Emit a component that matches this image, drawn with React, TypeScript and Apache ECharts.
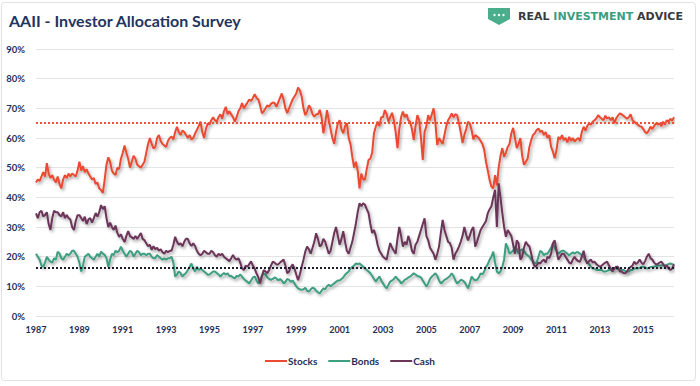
import React, { useEffect, useRef } from "react";
import * as echarts from "echarts";

// Monthly survey values, Jan 1987 .. Jun 2016 (one row per year)
const stocks: number[] = [
  45, 46, 45.5, 47, 48.5, 47, 51.5, 48, 46.5, 47.5, 46, 45,
  47, 44.5, 43, 46, 47.5, 46.5, 48, 47, 48, 47.5, 47, 49,
  52, 49, 50.5, 48.5, 49.5, 48, 47, 46, 46.5, 44.5, 45, 43,
  42.5, 41.5, 46, 51, 53.5, 52, 49, 48, 47.5, 50, 49.5, 53,
  55, 57.5, 55, 53, 50, 52, 54, 53, 51, 50.5, 50, 51,
  52, 55, 58, 60, 58, 56.5, 57, 60, 61, 59, 58, 57.5,
  57, 59, 60, 60.5, 59.5, 62, 63.8, 62, 61, 62.5, 62, 61,
  60, 61, 59.5, 60, 61.5, 62.7, 64, 65.5, 62, 60, 63, 65,
  64.5, 66, 67, 66, 65.5, 67, 68, 66.5, 69, 70.5, 68, 69,
  68, 67, 65.5, 67, 69, 70, 71.8, 70, 71, 72, 73, 72.5,
  73.5, 74.8, 73.5, 73, 71, 68.3, 69, 70, 71, 70.5, 71.5, 72,
  71.8, 70.5, 72, 73.5, 75, 73, 70, 68.4, 70, 71.5, 73, 74,
  75, 77, 76, 74, 70, 67.7, 69, 71, 70, 68, 67.2, 68,
  68, 69.5, 67, 61.6, 65, 69.4, 66, 63, 60, 58, 62, 65,
  66, 63, 61.6, 64, 65, 60, 58, 53.7, 50, 52, 49, 43,
  48, 46, 46, 49.5, 52.6, 53, 55, 61.6, 63.8, 65.5, 64, 67,
  67, 69.4, 68, 65.5, 67, 68.5, 66, 62, 56.6, 63, 67, 68.9,
  67, 68, 66, 65.5, 63, 59.3, 64, 67.7, 66, 60, 52.6, 62,
  64, 67.7, 66, 68, 70, 65, 57.6, 60, 59, 58, 61, 64,
  66, 67, 68.3, 67, 68, 67.7, 65, 62, 58.3, 61, 63, 65.5,
  65, 62.7, 59.5, 61, 60.5, 60, 59, 58, 56, 52, 49, 45.8,
  43.6, 43, 47.5, 44, 50, 54, 56.6, 53.7, 55, 57, 58, 61.6,
  63.4, 60, 56.6, 58, 60, 54, 51, 52, 53, 57, 59.3, 61,
  61.6, 62.7, 63.2, 62, 62.5, 61, 62, 60, 61, 57, 55.4, 53.2,
  56, 60.4, 59.5, 61, 59.3, 60, 58.5, 60.4, 59, 60, 58.8, 59.5,
  60, 59, 62, 63.8, 62.5, 64, 65, 64.5, 65.5, 66, 66.6, 67.7,
  67, 66.5, 66, 67.5, 66.6, 67, 66, 67, 65, 66.6, 67.5, 68.3,
  68, 67.5, 67, 66.5, 67, 68, 66, 65.5, 65, 64.5, 64, 63.8,
  63, 62, 61.6, 62.5, 63.8, 63, 64, 65, 64.5, 65, 64, 65.5,
  64.5, 66, 65.5, 66.5, 65.8, 67,
];

const bonds: number[] = [
  21, 20, 19, 17, 16.6, 18, 20, 19, 18.3, 18, 19.5, 19,
  21.7, 21, 19.5, 19, 20, 21, 20.5, 21, 22, 22, 21, 20,
  18, 15, 17, 20, 20.5, 21, 20, 19.5, 19, 20, 21, 20,
  21.7, 21, 20.6, 19.5, 16.6, 19, 21, 20.5, 22, 21.5, 22, 23.4,
  22, 21, 20, 21, 22, 21.5, 20, 21, 22, 21.5, 20.5, 21,
  21, 20.5, 21, 21, 20, 19.5, 19.5, 20.6, 20, 19.5, 19, 19.5,
  19, 19.5, 19.5, 20, 18, 13.3, 14, 15, 14.5, 13.3, 14, 14.5,
  15.5, 16.5, 17.7, 16, 15, 16.6, 15.5, 16, 15.5, 15, 14.5, 13.9,
  14, 14.5, 15, 15, 14.5, 14, 13.3, 14, 14.5, 14, 14.4, 13.5,
  13.5, 13, 12.7, 13.5, 13.3, 14, 13.3, 12.5, 12, 11.5, 11, 12,
  13, 13.3, 12, 11, 12, 13.5, 14.4, 14, 13, 12.5, 12.2, 12.5,
  13, 12.7, 12, 12.5, 12, 11, 11.5, 12.5, 12.2, 11.5, 12, 11,
  10, 9.3, 9, 8.8, 9, 9.5, 8.5, 8.2, 9, 9.5, 9.3, 8.5,
  8, 7.6, 8.5, 9.3, 9, 10, 10.5, 10, 10.5, 11, 11.5, 12,
  12, 12.5, 13, 13.9, 14.5, 15, 16, 16.5, 17, 17.7, 17.5, 17.7,
  17.2, 16.6, 16, 15.5, 15, 14.4, 13.5, 12.5, 11.6, 12.5, 13.3, 12,
  11, 10, 9.3, 10.5, 11.6, 12, 12.5, 13.3, 12.5, 12, 11, 11.5,
  12.2, 12.5, 13, 13.3, 13.8, 14.4, 14, 13.5, 13.3, 13, 12, 11,
  9.9, 11, 12.5, 13.3, 13.8, 14.4, 13.5, 12, 11, 11.5, 12.2, 12.5,
  13, 13.5, 14.4, 13.5, 12, 11, 11.5, 12.2, 12, 11.5, 10.5, 9.3,
  11, 13.3, 12.5, 12, 12.2, 13, 14.4, 14, 15, 16.6, 17.5, 19,
  20, 21.7, 18, 15, 14.4, 15, 16.6, 19, 24.5, 23, 21, 21.5,
  22, 23.4, 22.5, 21, 22, 22.5, 22, 21, 20.5, 20, 19, 18.5,
  17.7, 18, 20, 22, 21.5, 20.5, 21, 21, 22, 23, 24.5, 23,
  22, 21, 21.5, 22, 22, 21.5, 21, 20.5, 21, 21.5, 21, 21.5,
  21.5, 21, 20.5, 20, 19, 18, 17.5, 16.6, 16, 16, 15.5, 15.5,
  15.5, 15.5, 15, 15, 15.2, 15.5, 15.5, 15.8, 16, 16, 15.8, 15.5,
  15.5, 15.5, 15.2, 15, 15, 15.5, 15.5, 16, 16, 16, 16.2, 16.6,
  16.6, 16.4, 16, 16.2, 16.5, 16.6, 16.6, 16.8, 17, 17, 17, 17,
  17, 17.2, 17.5, 17.7, 17.5, 17.2,
];

const cash: number[] = [
  34.6, 33, 35, 35.5, 33.6, 34, 35, 31, 29, 33, 35.5, 35,
  35, 34, 33.6, 35, 33, 34, 33, 32.5, 30, 29, 32, 34,
  34, 33, 32, 33.5, 31, 32.5, 33, 31.5, 33, 34.7, 33.5, 35,
  37.4, 36, 37, 33, 30, 31.5, 30, 29, 30.5, 28, 26.7, 27.5,
  26, 24.9, 27, 28.6, 27, 26.5, 26, 27, 26, 27, 28, 26,
  25.5, 24.5, 23.5, 24, 22.3, 23.5, 22.5, 23, 22, 22.5, 21.5, 21,
  22, 21.5, 22, 22, 24, 26.7, 25, 24, 24.5, 23.5, 25, 26,
  26, 24.5, 23.6, 24.5, 23.6, 22, 21, 20.5, 21, 22, 21.5, 21,
  21, 22, 21.5, 20.5, 20, 21, 20.5, 21, 20, 19.5, 19, 18.5,
  19.5, 20.6, 19.5, 19, 19.5, 18, 16, 15.5, 17, 16.6, 17.5, 18.4,
  17, 16, 14.4, 13, 11, 13.5, 15.5, 15, 14.4, 15.5, 17, 18.3,
  18, 17.4, 17.4, 18, 18.5, 19, 17, 14.4, 15, 16.5, 17.4, 16,
  14, 12.1, 14, 16.6, 19, 21.7, 23.4, 22.5, 21, 23, 25, 27.9,
  26, 23.4, 24, 26, 25, 23, 21, 22, 25, 28, 30, 27,
  24, 26, 28.6, 25, 22, 21, 23, 25, 28, 31.2, 35, 38,
  37, 38, 37.5, 36, 34.7, 31, 28, 29, 27, 24, 22, 21,
  20, 19.5, 19, 22, 24.6, 23, 22, 21, 26, 30, 27, 23.4,
  25, 24, 27, 25, 22, 21, 24, 25, 27, 29, 31, 32.9,
  27, 25.5, 23, 22, 21, 19, 21, 23.4, 28, 32.4, 29, 27,
  25, 24.6, 23, 19, 21, 22, 23.4, 25, 27, 30, 27.5, 25.5,
  27, 29, 30, 23.4, 25, 27, 29, 30, 31, 32, 34.7, 36,
  37, 40, 42.5, 30, 44.7, 40, 34.7, 30, 26.7, 29, 28, 27,
  24, 21, 25.5, 24.5, 19, 20, 23, 25, 24, 23.4, 21, 18,
  16.6, 17, 18, 17.7, 18.5, 19, 18, 20, 19.5, 21, 24.5, 25.5,
  22, 19, 20, 21, 21, 20, 19, 18, 17.7, 19, 20, 19,
  18.5, 18.3, 20, 22, 19, 17.7, 18.5, 19, 18, 18.3, 17.5, 17,
  16.6, 17, 17.5, 18, 18.3, 17, 16, 15, 16, 16.6, 16.6, 15,
  15, 14.5, 14.4, 15, 16, 16.5, 17, 18.3, 17.5, 18, 19, 18,
  17.4, 18.5, 20, 21, 19.5, 19, 18, 17.4, 17.5, 18, 18.3, 17.5,
  16.6, 17, 16, 15.5, 16, 17.4,
];

const stocksAverage = 65.3;
const bondsCashAverage = 16.4;
const firstYear = 1987;
const yTicks = [0, 10, 20, 30, 40, 50, 60, 70, 80, 90];

const months: string[] = stocks.map((_, i) => {
  const y = firstYear + Math.floor(i / 12);
  const m = (i % 12) + 1;
  return `${y}-${m < 10 ? "0" + m : m}`;
});

const NAVY = "#1f2f57";
const RED = "#ea4a32";
const GREEN = "#3d9e80";
const PURPLE = "#6b3559";

export default function App() {
  const ref = useRef<HTMLDivElement>(null);
  useEffect(() => {
    if (!ref.current) return;
    const chart = echarts.init(ref.current, null, { renderer: "svg" });
    const shadow = {
      shadowColor: "rgba(0,0,0,0.35)",
      shadowBlur: 3,
      shadowOffsetX: 1.5,
      shadowOffsetY: 2,
    };
    const mkSeries = (name: string, data: number[], color: string) => ({
      name,
      type: "line",
      data,
      symbol: "none",
      smooth: false,
      z: name === "Cash" ? 4 : 3,
      lineStyle: { color, width: 2, ...shadow },
      itemStyle: { color },
    });
    chart.setOption({
      animation: false,
      backgroundColor: "#ffffff",
      title: {
        text: "AAII - Investor Allocation Survey",
        left: 4,
        top: 7,
        textStyle: {
          fontFamily: "Lato",
          fontWeight: "bold",
          fontSize: 16,
          color: "#1f3560",
        },
      },
      graphic: [
        {
          type: "rect",
          shape: { x: 1.5, y: 2.5, width: 694, height: 378, r: 3 },
          style: { fill: "none", stroke: "#e2e2e2", lineWidth: 1 },
          silent: true,
        },
        {
          type: "polygon",
          shape: {
            points: [
              [488, 8], [510, 8], [510, 19], [499, 25], [488, 19],
            ],
          },
          style: { fill: "#4aae8c" },
        },
        { type: "circle", shape: { cx: 494.5, cy: 15, r: 1.2 }, style: { fill: "#fff" } },
        { type: "circle", shape: { cx: 499, cy: 15, r: 1.2 }, style: { fill: "#fff" } },
        { type: "circle", shape: { cx: 503.5, cy: 15, r: 1.2 }, style: { fill: "#fff" } },
        {
          type: "text",
          x: 518,
          y: 16,
          style: {
            text: "{a|REAL }{b|INVESTMENT}{a| ADVICE}",
            verticalAlign: "middle",
            rich: {
              a: { fontFamily: "DejaVu Sans", fontWeight: "bold", fontSize: 11, fill: "#3a3a3a" },
              b: { fontFamily: "DejaVu Sans", fontWeight: "bold", fontSize: 11, fill: "#3a9e7f" },
            },
          },
        },
      ],
      legend: {
        bottom: 15,
        left: "center",
        icon: "rect",
        itemWidth: 22,
        itemHeight: 2,
        itemGap: 11,
        textStyle: {
          fontFamily: "Lato",
          fontWeight: "bold",
          fontSize: 10,
          color: NAVY,
          padding: [0, 0, 0, -4],
        },
        data: ["Stocks", "Bonds", "Cash"],
      },
      grid: { left: 36, right: 26, top: 49, bottom: 70 },
      xAxis: {
        type: "category",
        data: months,
        boundaryGap: false,
        axisLine: { show: false },
        axisTick: { show: false },
        splitLine: { show: false },
        axisLabel: {
          interval: 23,
          margin: 9,
          formatter: (v: string) => v.slice(0, 4),
          fontFamily: "Lato",
          fontWeight: "bold",
          fontSize: 9,
          color: NAVY,
        },
      },
      yAxis: {
        type: "value",
        min: yTicks[0],
        max: yTicks[yTicks.length - 1],
        interval: 10,
        axisLine: { show: false },
        axisTick: { show: false },
        splitLine: { lineStyle: { color: "#e4e4e4", width: 1 } },
        axisLabel: {
          formatter: "{value}%",
          margin: 11,
          fontFamily: "Lato",
          fontWeight: "bold",
          fontSize: 9.5,
          color: NAVY,
        },
      },
      series: [
        {
          ...mkSeries("Stocks", stocks, RED),
          markLine: {
            silent: true,
            symbol: "none",
            label: { show: false },
            lineStyle: { color: "#e8523a", type: [2, 2], width: 2 },
            data: [{ yAxis: stocksAverage }],
          },
        },
        mkSeries("Bonds", bonds, GREEN),
        {
          ...mkSeries("Cash", cash, PURPLE),
          markLine: {
            silent: true,
            symbol: "none",
            label: { show: false },
            z: 10,
            lineStyle: { color: "#1a1a2a", type: [2, 2], width: 2 },
            data: [{ yAxis: bondsCashAverage }],
          },
        },
      ],
    });
    return () => chart.dispose();
  }, []);
  return (
    <div
      ref={ref}
      style={{ position: "absolute", left: 0, top: 0, width: 700, height: 386 }}
    />
  );
}
